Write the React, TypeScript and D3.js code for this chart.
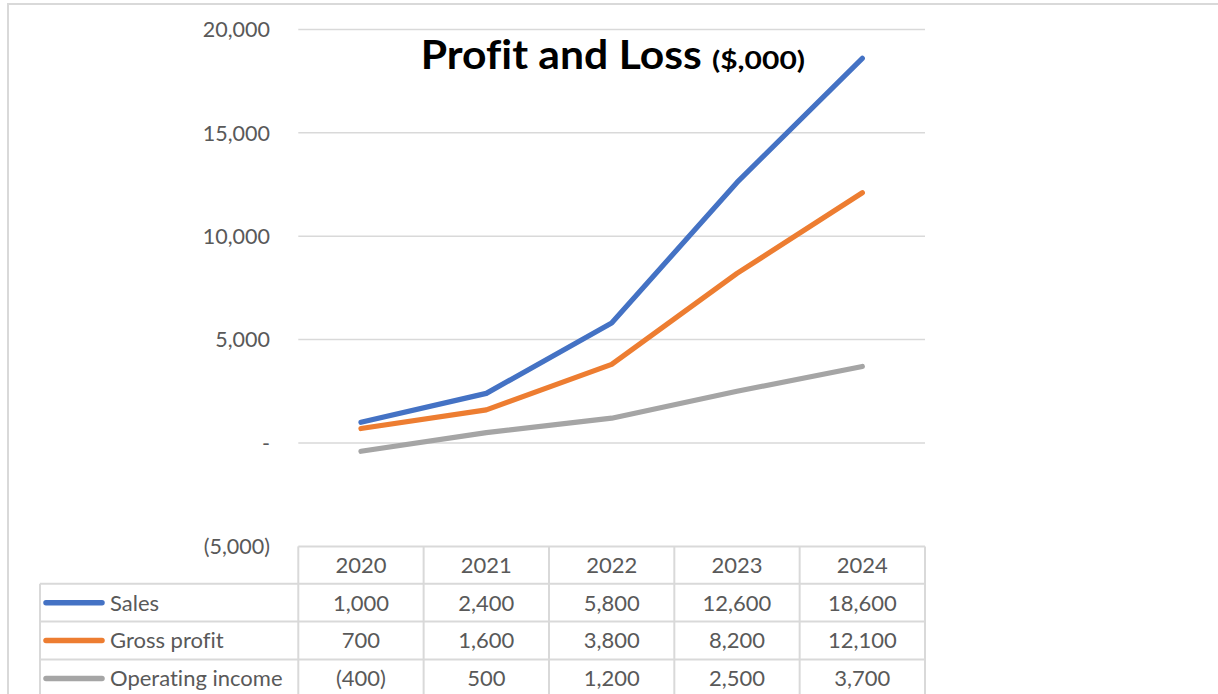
import React from "react";
import * as d3 from "d3";

const years = ["2020", "2021", "2022", "2023", "2024"];
const sales = [1000, 2400, 5800, 12600, 18600];
const grossProfit = [700, 1600, 3800, 8200, 12100];
const operatingIncome = [-400, 500, 1200, 2500, 3700];
const yTicks = [-5000, 0, 5000, 10000, 15000, 20000];
const seriesNames = ["Sales", "Gross profit", "Operating income"];
const seriesColors = ["#4472C4", "#ED7D31", "#A5A5A5"];

const W = 1218;
const H = 694;
const FONT = "Lato, 'Open Sans', sans-serif";
const TEXT = "#595959";
const GRID = "#d9d9d9";

const fmt = (v: number) => {
  if (v === 0) return "-";
  const s = d3.format(",")(Math.abs(v));
  return v < 0 ? `(${s})` : s;
};

export default function App() {
  const series = [sales, grossProfit, operatingIncome];
  const x = d3.scaleBand<string>().domain(years).range([298.3, 925]);
  const y = d3.scaleLinear().domain([-5000, 20000]).range([546.4, 29.4]);
  const cx = (yr: string) => (x(yr) as number) + x.bandwidth() / 2;
  const line = d3
    .line<number>()
    .x((_, i) => cx(years[i]))
    .y((d) => y(d));

  const tableTop = y(-5000);
  const rowH = 37.9;
  const legendLeft = 40;
  const tableLeft = 298.3;
  const tableRight = 925;
  const rowTops = [tableTop, tableTop + 37.3, tableTop + 37.3 + rowH, tableTop + 37.3 + 2 * rowH];
  const tableBottom = rowTops[3] + rowH;

  return (
    <svg
      width={W}
      height={H}
      style={{ position: "absolute", left: 0, top: 0, background: "#fff", fontVariantLigatures: "none" }}
      fontFamily={FONT}
    >
      <rect x={0} y={0} width={W} height={H} fill="#fff" />
      {/* outer frame */}
      <path d={`M8,${H} L8,4 L${W},4`} fill="none" stroke={GRID} strokeWidth={2} />

      {/* gridlines */}
      {yTicks
        .filter((t) => t > -5000)
        .map((t) => (
          <line key={t} x1={tableLeft} x2={tableRight} y1={y(t)} y2={y(t)} stroke={GRID} strokeWidth={1.5} />
        ))}

      {/* y tick labels */}
      {yTicks.map((t) => (
        <text key={t} x={270} y={y(t)} dy="0.36em" textAnchor="end" fontSize={21.5} fill={TEXT}>
          {fmt(t)}
        </text>
      ))}

      {/* lines */}
      {series.map((s, i) => (
        <path
          key={i}
          d={line(s) as string}
          fill="none"
          stroke={seriesColors[i]}
          strokeWidth={5.2}
          strokeLinecap="round"
          strokeLinejoin="round"
        />
      ))}

      {/* title */}
      <text x={420.7} y={69.3} fontSize={41} fontWeight={700} fill="#000" textLength={281} lengthAdjust="spacingAndGlyphs">
        Profit and Loss
      </text>
      <text x={712} y={69.3} fontSize={25.5} fontWeight={700} fill="#000" textLength={93} lengthAdjust="spacingAndGlyphs">
        ($,000)
      </text>

      {/* data table */}
      <g stroke={GRID} strokeWidth={2} fill="none">
        <line x1={tableLeft} x2={tableRight} y1={rowTops[0]} y2={rowTops[0]} />
        {rowTops.slice(1).map((r, i) => (
          <line key={i} x1={legendLeft} x2={tableRight} y1={r} y2={r} />
        ))}
        <line x1={legendLeft} x2={legendLeft} y1={rowTops[1]} y2={tableBottom} />
        {years.map((yr) => (
          <line key={yr} x1={x(yr) as number} x2={x(yr) as number} y1={rowTops[0]} y2={tableBottom} />
        ))}
        <line x1={tableRight} x2={tableRight} y1={rowTops[0]} y2={tableBottom} />
      </g>

      {years.map((yr) => (
        <text
          key={yr}
          x={cx(yr)}
          y={(rowTops[0] + rowTops[1]) / 2}
          dy="0.36em"
          textAnchor="middle"
          fontSize={22}
          fill={TEXT}
        >
          {yr}
        </text>
      ))}

      {series.map((s, i) => {
        const rt = rowTops[i + 1];
        const mid = rt + rowH / 2;
        return (
          <g key={i}>
            <line x1={46} x2={102} y1={mid} y2={mid} stroke={seriesColors[i]} strokeWidth={5.5} strokeLinecap="round" />
            <text x={110} y={mid} dy="0.36em" fontSize={22} fill={TEXT}>
              {seriesNames[i]}
            </text>
            {s.map((v, j) => (
              <text key={j} x={cx(years[j])} y={mid} dy="0.36em" textAnchor="middle" fontSize={22} fill={TEXT}>
                {fmt(v)}
              </text>
            ))}
          </g>
        );
      })}
    </svg>
  );
}
